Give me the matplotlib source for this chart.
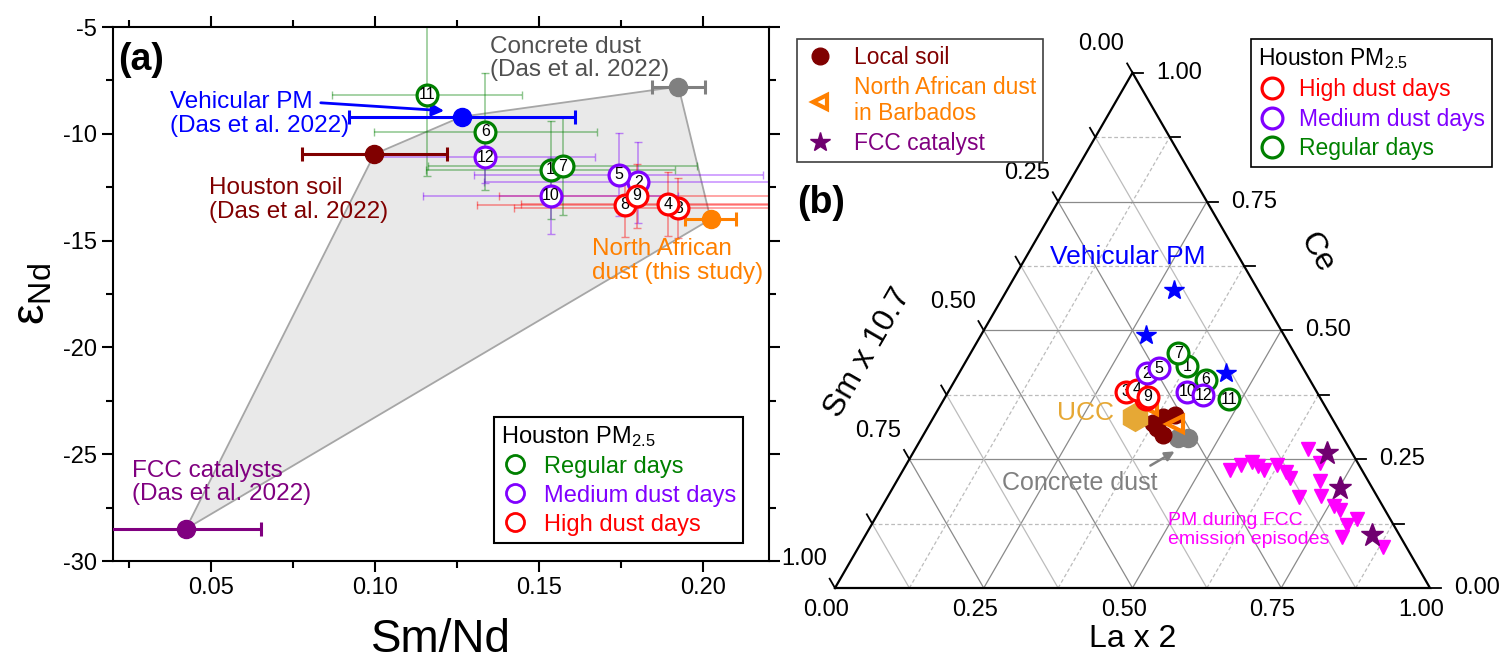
import numpy as np
import matplotlib.pyplot as plt
from matplotlib.lines import Line2D
from matplotlib.patches import Polygon

plt.rcParams['font.family'] = ['Liberation Sans', 'DejaVu Sans']
plt.rcParams['mathtext.fontset'] = 'custom'
plt.rcParams['mathtext.rm'] = 'Liberation Sans'
plt.rcParams['mathtext.it'] = 'Liberation Sans:italic'
plt.rcParams['mathtext.bf'] = 'Liberation Sans:bold'
plt.rcParams['axes.unicode_minus'] = False

# ---------------------------------------------------------------------------
# Houston PM2.5 samples
sample_id = [1, 2, 3, 4, 5, 6, 7, 8, 9, 10, 11, 12]
sample_group = ['reg', 'med', 'high', 'high', 'med', 'reg',
                'reg', 'high', 'high', 'med', 'reg', 'med']
sample_smnd = [0.1534, 0.1802, 0.1924, 0.1893, 0.1742, 0.1335,
               0.1571, 0.1761, 0.1797, 0.1534, 0.1157, 0.1335]
sample_eps = [-11.69, -12.27, -13.49, -13.30, -11.91, -9.90,
              -11.51, -13.33, -12.90, -12.91, -8.18, -11.10]
sample_smnd_err = [0.038, 0.047, 0.050, 0.045, 0.044, 0.034,
                   0.041, 0.045, 0.042, 0.039, 0.029, 0.0335]
sample_eps_err = [2.3, 1.9, 1.4, 1.5, 1.95, 2.75,
                  2.3, 1.5, 1.5, 1.8, 3.8, 1.2]
# ternary fractions (La x 2, Ce); Sm x 10.7 is the remainder
sample_la = [0.3757, 0.3156, 0.2989, 0.3154, 0.3318, 0.4217,
             0.3492, 0.3393, 0.3407, 0.4016, 0.4796, 0.4317]
sample_ce = [0.4308, 0.4167, 0.3804, 0.3843, 0.4264, 0.4037,
             0.4555, 0.3668, 0.3707, 0.3810, 0.3662, 0.3745]
tern_order = [3, 8, 4, 9, 2, 5, 1, 7, 6, 10, 12, 11]

group_color = {'reg': '#008000', 'med': '#8000ff', 'high': '#ff0000'}

# end-members for Sm/Nd vs eps_Nd
em_names = ['Houston soil', 'Vehicular PM', 'Concrete dust',
            'North African dust', 'FCC catalysts']
em_smnd = [0.0997, 0.1263, 0.1924, 0.2022, 0.0422]
em_eps = [-10.95, -9.20, -7.79, -14.00, -28.50]
em_smnd_err = [0.022, 0.0345, 0.008, 0.0078, 0.0228]
em_color = ['#800000', '#0000ff', '#808080', '#ff8000', '#800080']
hull_order = [4, 0, 1, 2, 3]

# ternary end-members
veh_la = [0.2811, 0.2772, 0.4490]
veh_ce = [0.5783, 0.4910, 0.4163]
ucc_la = [0.3380]
ucc_ce = [0.3324]
soil_la = [0.3744, 0.3854, 0.4035, 0.4029, 0.3859]
soil_ce = [0.3202, 0.3319, 0.3357, 0.2969, 0.3105]
nad_la = [0.3511, 0.4123]
nad_ce = [0.3532, 0.3183]
conc_la = [0.4309, 0.4477]
conc_ce = [0.2911, 0.2911]
fcc_la = [0.6957, 0.7519, 0.8506]
fcc_ce = [0.2614, 0.1935, 0.1029]
fccpm_la = [0.5494, 0.5631, 0.5785, 0.5925, 0.6065, 0.6236, 0.6454,
            0.6580, 0.6915, 0.6601, 0.6938, 0.7113, 0.7275, 0.7591,
            0.7730, 0.7993, 0.8103, 0.8026, 0.8812]
fccpm_ce = [0.2290, 0.2387, 0.2445, 0.2368, 0.2290, 0.2387, 0.2251,
            0.2135, 0.1766, 0.2697, 0.2426, 0.2076, 0.1785, 0.1591,
            0.1514, 0.1223, 0.1339, 0.0990, 0.0796]

tern_ticks = [0.00, 0.25, 0.50, 0.75, 1.00]

fig = plt.figure(figsize=(15.01, 6.60), dpi=100)

# ===========================================================================
# (a) Sm/Nd vs eps_Nd
ax = fig.add_axes([113/1501, 99/660, 656/1501, 534/660])
ax.set_xlim(0.02, 0.22)
ax.set_ylim(-30, -5)

hx = [em_smnd[i] for i in hull_order]
hy = [em_eps[i] for i in hull_order]
ax.add_patch(Polygon(np.column_stack([hx, hy]), closed=True,
                     facecolor='#e9e9e9', edgecolor='#a6a6a6', lw=1.3, zorder=1))

for i in range(len(sample_id)):
    c = group_color[sample_group[i]]
    ax.errorbar(sample_smnd[i], sample_eps[i], xerr=sample_smnd_err[i],
                yerr=sample_eps_err[i], fmt='none', ecolor=c, alpha=0.45,
                elinewidth=1.1, capsize=3, zorder=2)

for i in range(len(em_names)):
    ax.errorbar(em_smnd[i], em_eps[i], xerr=em_smnd_err[i], fmt='o',
                color=em_color[i], ms=13, elinewidth=2.2, capsize=5,
                capthick=2.2, zorder=4, clip_on=True)

for i in range(len(sample_id)):
    c = group_color[sample_group[i]]
    ax.plot(sample_smnd[i], sample_eps[i], 'o', ms=15, mfc='white', mec=c,
            mew=2.3, zorder=5 + i)
    ax.text(sample_smnd[i], sample_eps[i], str(sample_id[i]), fontsize=11.5,
            ha='center', va='center', zorder=5 + i)

ax.text(0.0215, -6.55, '(a)', fontsize=27, fontweight='bold',
        ha='left', va='center')
ax.text(0.135, -6.47, 'Concrete dust\n(Das et al. 2022)', color='#505050',
        fontsize=17.5, ha='left', va='center', linespacing=1.1)
ax.text(0.0374, -9.07, 'Vehicular PM\n(Das et al. 2022)', color='#0000ff',
        fontsize=17.5, ha='left', va='center', linespacing=1.1)
ax.annotate('', xy=(0.1218, -8.93), xytext=(0.0825, -8.54),
            arrowprops=dict(arrowstyle='-|>', color='#0000ff', lw=2,
                            mutation_scale=18), zorder=6)
ax.text(0.0493, -13.1, 'Houston soil\n(Das et al. 2022)', color='#800000',
        fontsize=17.5, ha='left', va='center', linespacing=1.1)
ax.text(0.166, -15.96, 'North African\ndust (this study)', color='#ff8000',
        fontsize=17.5, ha='left', va='center', linespacing=1.1)
ax.text(0.0257, -26.33, 'FCC catalysts\n(Das et al. 2022)', color='#800080',
        fontsize=17.5, ha='left', va='center', linespacing=1.1)

ax.set_xticks([0.05, 0.10, 0.15, 0.20])
ax.set_xticks(np.arange(0.025, 0.221, 0.025), minor=True)
ax.set_yticks([-30, -25, -20, -15, -10, -5])
ax.set_yticks(np.arange(-27.5, -5, 5), minor=True)
ax.set_xticklabels(['0.05', '0.10', '0.15', '0.20'])
ax.tick_params(which='both', direction='out', top=True, right=True,
               labelsize=17, width=1.5)
ax.tick_params(which='major', length=8)
ax.tick_params(which='minor', length=5)
for s in ax.spines.values():
    s.set_linewidth(1.5)
ax.set_xlabel('Sm/Nd', fontsize=33, labelpad=14)
ax.set_ylabel(r'$\mathrm{ε}_{\mathrm{Nd}}$', fontsize=33, labelpad=6)

leg_handles = [Line2D([], [], ls='none', marker='o', ms=13, mfc='none',
                      mec=group_color[g], mew=2) for g in ['reg', 'med', 'high']]
leg = ax.legend(leg_handles, ['Regular days', 'Medium dust days', 'High dust days'],
                title=r'Houston PM$_{\mathrm{2.5}}$', alignment='left',
                loc='lower left', bbox_to_anchor=(0.581, 0.034), borderaxespad=0,
                fontsize=17, title_fontsize=17, handlelength=1.2,
                handletextpad=0.6, labelspacing=0.3, borderpad=0.3,
                fancybox=False, edgecolor='black', framealpha=1)
leg.get_frame().set_linewidth(1.5)
for t, g in zip(leg.get_texts(), ['reg', 'med', 'high']):
    t.set_color(group_color[g])

# ===========================================================================
# (b) ternary La x 2 - Ce - Sm x 10.7
axb = fig.add_axes([780/1501, 0, 721/1501, 1])
axb.set_xlim(-55/595, 666/595)
axb.set_ylim(-72/595, 588/595)
axb.axis('off')

h = np.sqrt(3) / 2


def tern(la, ce):
    la = np.asarray(la, float)
    ce = np.asarray(ce, float)
    return la + ce / 2, ce * h


# grid lines, one family per component
for k in range(1, 8):
    f = k / 8
    major = k % 2 == 0
    col = '#8a8a8a' if major else '#bcbcbc'
    # constant Ce (horizontal)
    x, y = tern([0, 1 - f], [f, f])
    axb.plot(x, y, color=col, lw=0.9, ls='-' if major else (0, (3, 2)), zorder=1)
    # constant La
    x, y = tern([f, f], [0, 1 - f])
    axb.plot(x, y, color=col, lw=0.9, ls='-' if major else (0, (3, 2)), zorder=1)
    # constant Sm
    x, y = tern([1 - f, 0], [0, 1 - f])
    axb.plot(x, y, color=col, lw=0.9, ls='-', zorder=1)

x, y = tern([0, 1, 0, 0], [0, 0, 1, 0])
axb.plot(x, y, color='black', lw=1.6, zorder=3, solid_joinstyle='miter')

tl = 0.018
for k in range(9):
    f = k / 8
    # left side (Sm), ticks point up-left
    px, py = tern(0, 1 - f)
    axb.plot([px, px - 0.5 * tl], [py, py + h * tl], color='black', lw=1.3)
    # right side (Ce), ticks point right
    px, py = tern(1 - f, f)
    axb.plot([px, px + tl], [py, py], color='black', lw=1.3)

for v in tern_ticks:
    px, py = tern(0, 1 - v)
    axb.text(px - 0.052, py + 0.048, f'{v:.2f}', fontsize=17,
             ha='center', va='center')
    px, py = tern(1 - v, v)
    axb.text(px + 0.04, py, f'{v:.2f}', fontsize=17, ha='left', va='center')
    px, py = tern(v, 0)
    axb.text(px - 0.015, py - 0.037, f'{v:.2f}', fontsize=17,
             ha='center', va='center')

axb.text(0.5, -0.085, 'La x 2', fontsize=23, ha='center', va='center')
axb.text(0.055, 0.395, 'Sm x 10.7', fontsize=23, ha='center', va='center',
         rotation=60, rotation_mode='anchor')
axb.text(0.810, 0.563, 'Ce', fontsize=23, ha='center', va='center',
         rotation=-60, rotation_mode='anchor')
axb.text(-0.0639, 0.647, '(b)', fontsize=27, fontweight='bold',
         ha='left', va='center')

# end-members
x, y = tern(fccpm_la, fccpm_ce)
axb.plot(x, y, 'v', ms=10, color='#ff00ff', mec='#ff00ff', ls='none', zorder=4)
x, y = tern(fcc_la, fcc_ce)
axb.plot(x, y, '*', ms=17, color='#700070', ls='none', zorder=4)
x, y = tern(veh_la, veh_ce)
axb.plot(x, y, '*', ms=15, color='#0000ff', ls='none', zorder=4)
x, y = tern(conc_la, conc_ce)
axb.plot(x, y, 'o', ms=13, color='#808080', ls='none', zorder=5)
x, y = tern(soil_la, soil_ce)
axb.plot(x, y, 'o', ms=12, color='#800000', ls='none', zorder=6)
x, y = tern(nad_la, nad_ce)
axb.plot(x, y, '<', ms=11, mfc='none', mec='#ff8000', mew=3, ls='none', zorder=7)
x, y = tern(ucc_la, ucc_ce)
axb.plot(x, y, 'h', ms=20, color='#e6a835', ls='none', zorder=8)

z = 10
for sid in tern_order:
    i = sample_id.index(sid)
    c = group_color[sample_group[i]]
    x, y = tern(sample_la[i], sample_ce[i])
    axb.plot(x, y, 'o', ms=15, mfc='white', mec=c, mew=2.3, zorder=z)
    axb.text(x, y, str(sid), fontsize=11.5, ha='center', va='center', zorder=z)
    z += 1

axb.text(0.3613, 0.5563, 'Vehicular PM', color='#0000ff', fontsize=19,
         ha='left', va='center')
axb.text(0.4202, 0.2941, 'UCC', color='#e6a835', fontsize=19,
         ha='center', va='center')
axb.text(0.4118, 0.1765, 'Concrete dust', color='#808080', fontsize=18,
         ha='center', va='center')
axb.annotate('', xy=(0.5748, 0.2319), xytext=(0.526, 0.2034),
             arrowprops=dict(arrowstyle='-|>', color='#808080', lw=1.8,
                             mutation_scale=14), zorder=9)
axb.text(0.5597, 0.0975, 'PM during FCC\nemission episodes', color='#ff00ff',
         fontsize=14, ha='left', va='center', linespacing=1.1)

src_handles = [
    Line2D([], [], ls='none', marker='o', ms=12, color='#800000'),
    Line2D([], [], ls='none', marker='<', ms=10, mfc='none', mec='#ff8000', mew=3),
    Line2D([], [], ls='none', marker='*', ms=15, color='#700070'),
]
src_labels = ['Local soil', 'North African dust\nin Barbados', 'FCC catalyst']
leg1 = axb.legend(src_handles, src_labels, loc='upper left',
                  bbox_to_anchor=(797/1501, 1 - 39/660),
                  bbox_transform=fig.transFigure, borderaxespad=0,
                  fontsize=16.5, handlelength=1.4, handletextpad=0.8,
                  labelspacing=0.3, borderpad=0.3, fancybox=False,
                  edgecolor='#404040', framealpha=1)
leg1.get_frame().set_linewidth(1.2)
for t, c in zip(leg1.get_texts(), ['#800000', '#ff8000', '#800080']):
    t.set_color(c)
axb.add_artist(leg1)

day_handles = [Line2D([], [], ls='none', marker='o', ms=15, mfc='none',
                      mec=group_color[g], mew=2.3) for g in ['high', 'med', 'reg']]
leg2 = axb.legend(day_handles, ['High dust days', 'Medium dust days', 'Regular days'],
                  title=r'Houston PM$_{\mathrm{2.5}}$', alignment='left',
                  loc='upper left', bbox_to_anchor=(1251/1501, 1 - 39/660),
                  bbox_transform=fig.transFigure, borderaxespad=0,
                  fontsize=16.5, title_fontsize=16.5, handlelength=1.2,
                  handletextpad=0.6, labelspacing=0.3, borderpad=0.3,
                  fancybox=False, edgecolor='black', framealpha=1)
leg2.get_frame().set_linewidth(1.2)
for t, g in zip(leg2.get_texts(), ['high', 'med', 'reg']):
    t.set_color(group_color[g])

fig.savefig('out.png', dpi=100)
